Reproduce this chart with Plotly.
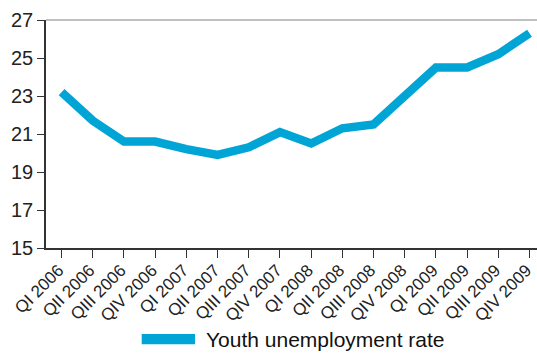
import plotly.graph_objects as go

categories = ["QI 2006", "QII 2006", "QIII 2006", "QIV 2006",
              "QI 2007", "QII 2007", "QIII 2007", "QIV 2007",
              "QI 2008", "QII 2008", "QIII 2008", "QIV 2008",
              "QI 2009", "QII 2009", "QIII 2009", "QIV 2009"]
youth_rate = [23.2, 21.7, 20.6, 20.6, 20.2, 19.9, 20.3, 21.1,
              20.5, 21.3, 21.5, 23.0, 24.5, 24.5, 25.2, 26.3]
y_ticks = [15, 17, 19, 21, 23, 25, 27]
series_name = "Youth unemployment rate"

color = "#00a5d6"
font_family = "Liberation Sans, Arial, sans-serif"

fig = go.Figure()
fig.add_trace(go.Scatter(
    x=list(range(len(categories))), y=youth_rate, mode="lines",
    name=series_name,
    line=dict(color=color, width=8.5),
    showlegend=False,
))

fig.update_layout(
    width=537, height=354,
    margin=dict(l=46, r=0, t=20, b=106),
    paper_bgcolor="white", plot_bgcolor="white",
    font=dict(family=font_family, color="#222"),
    showlegend=False,
)
fig.update_xaxes(
    range=[-0.5, 15.24],
    tickmode="array",
    tickvals=list(range(len(categories))),
    ticktext=categories,
    tickangle=-45,
    tickfont=dict(size=17, color="#222"),
    ticklabeloverflow="allow",
    ticklabelstandoff=-4,
    ticklabelshift=-3,
    showline=True, linecolor="#333", linewidth=1.5,
    ticks="outside", ticklen=8, tickcolor="#333", tickwidth=1.2,
    tickson="boundaries",
    showgrid=False, zeroline=False,
    automargin=False,
)
fig.update_yaxes(
    range=[15, 27],
    tickmode="array", tickvals=y_ticks,
    ticktext=[str(v) for v in y_ticks],
    tickfont=dict(size=20, color="#222"),
    showline=True, linecolor="#333", linewidth=1.5,
    ticks="outside", ticklen=7, tickcolor="#333", tickwidth=1.2,
    showgrid=False, zeroline=False,
    automargin=False,
)

# top frame line
fig.add_shape(type="line", xref="paper", yref="paper",
              x0=0, x1=1, y0=1, y1=1,
              line=dict(color="#aaaaaa", width=1.5))

# custom legend
fig.add_shape(type="rect", xref="paper", yref="paper",
              x0=(141.7 - 46) / 491, x1=(195 - 46) / 491,
              y0=(248 - 344.3) / 228, y1=(248 - 334) / 228,
              fillcolor=color, line=dict(width=0))
fig.add_annotation(xref="paper", yref="paper",
                   x=(204 - 46) / 491, y=(248 - 339) / 228,
                   xanchor="left", yanchor="middle",
                   text=series_name, showarrow=False,
                   font=dict(size=21, color="#111", family=font_family))

fig.write_html("out.html",
               config={"displayModeBar": False},
               post_script="document.body.style.margin='0';document.body.style.overflow='hidden';")
